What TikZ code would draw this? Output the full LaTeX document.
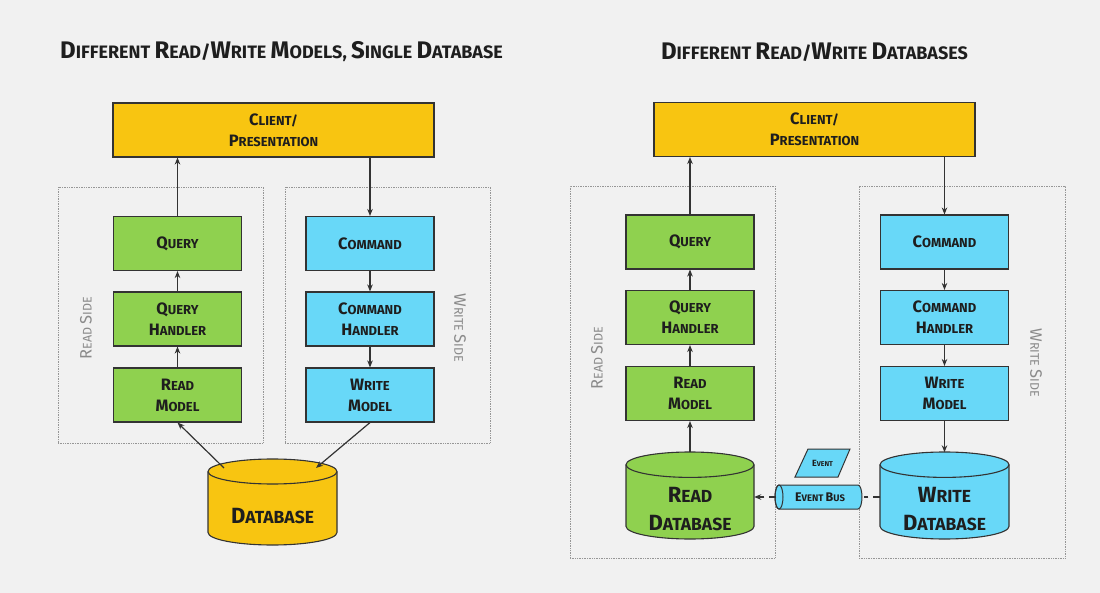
\documentclass[tikz,border=0pt]{standalone}
\usepackage{fontspec}
\setmainfont{Fira Sans}
\usetikzlibrary{arrows.meta,calc}
\definecolor{bg}{HTML}{F1F1F1}
\definecolor{yel}{HTML}{F8C511}
\definecolor{grn}{HTML}{8FD14F}
\definecolor{blu}{HTML}{68D8F8}
\definecolor{ink}{HTML}{1E1E1E}
\definecolor{edge}{HTML}{333333}
\definecolor{sidegray}{HTML}{8A8A8A}
\newcommand\TT[2]{{\fontsize{24}{26}\selectfont #1}{\fontsize{18}{26}\selectfont #2}}
\newcommand\BX[2]{{\fontsize{16.5}{21}\selectfont #1}{\fontsize{13}{21}\selectfont #2}}
\newcommand\DBT[2]{{\fontsize{22}{28}\selectfont #1}{\fontsize{17.5}{28}\selectfont #2}}
\newcommand\SD[2]{{\fontsize{16.5}{18}\selectfont #1}{\fontsize{12.5}{18}\selectfont #2}}
\newcommand\EVT[2]{{\fontsize{9}{10}\selectfont #1}{\fontsize{7}{10}\selectfont #2}}
\newcommand\EBT[2]{{\fontsize{12.5}{14}\selectfont #1}{\fontsize{9.5}{14}\selectfont #2}}
\newcommand\drawcyl[6]{%
  \pgfmathsetmacro\rx{(#2-#1)/2}%
  \filldraw[fill=#6,draw=edge,line width=1.1pt] (#1,#3+#5) -- (#1,#4-#5)
    arc[start angle=180,end angle=0,x radius=\rx,y radius=#5] -- (#2,#3+#5)
    arc[start angle=0,end angle=-180,x radius=\rx,y radius=#5] -- cycle;
  \draw[draw=edge,line width=1.1pt] (#1,#3+#5)
    arc[start angle=180,end angle=0,x radius=\rx,y radius=#5];}
\begin{document}
\begin{tikzpicture}[x=1pt,y=-1pt,
  box/.style={draw=edge,line width=1.1pt,minimum width=128pt,minimum height=54pt,
    inner sep=0pt,align=center,text=ink,font=\bfseries\fontsize{13}{21}\selectfont},
  qbox/.style={box,fill=grn},
  cbox/.style={box,fill=blu},
  client/.style={box,fill=yel,minimum width=321pt},
  sidebox/.style={draw=sidegray!90,densely dotted,line width=0.7pt,inner sep=0pt},
  sidelbl/.style={text=sidegray,inner sep=0pt,font=\fontsize{12.5}{18}\selectfont},
  title/.style={text=ink,inner sep=0pt,font=\bfseries\fontsize{18}{26}\selectfont},
  dbarea/.style={inner sep=0pt,minimum width=128pt,minimum height=86pt},
  dblbl/.style={text=ink,inner sep=0pt,align=center,font=\bfseries\fontsize{17.5}{28}\selectfont},
  arr/.style={draw=edge,line width=1.2pt,-{Stealth[length=7pt,width=5.5pt]}},
  busline/.style={draw=edge,line width=1.2pt,dash pattern=on 7pt off 5pt}
]
\fill[bg] (0,0) rectangle (1100,593);
\useasboundingbox (0,0) rectangle (1100,593);

% ---------------- left panel ----------------
\node[title] (tL) at (281.5,52) {\TT{D}{IFFERENT} \TT{R}{EAD}/\TT{W}{RITE} \TT{M}{ODELS}, \TT{S}{INGLE} \TT{D}{ATABASE}};
\node[client] (cL) at (273.5,130) {\BX{C}{LIENT/}\\\BX{P}{RESENTATION}};
\node[sidebox,minimum width=205pt,minimum height=256pt] (rsL) at (160.5,315) {};
\node[sidebox,minimum width=205pt,minimum height=256pt] (wsL) at (387.5,315) {};
\node[qbox] (qL) at (177.5,243.5) {\BX{Q}{UERY}};
\node[qbox] (qhL) at (177.5,319) {\BX{Q}{UERY}\\\BX{H}{ANDLER}};
\node[qbox] (rmL) at (177.5,395) {\BX{R}{EAD}\\\BX{M}{ODEL}};
\node[cbox] (cmL) at (370,243.5) {\BX{C}{OMMAND}};
\node[cbox] (chL) at (370,319) {\BX{C}{OMMAND}\\\BX{H}{ANDLER}};
\node[cbox] (wmL) at (370,395) {\BX{W}{RITE}\\\BX{M}{ODEL}};
\node[sidelbl,rotate=90] (rlL) at (86,328) {\SD{R}{EAD} \SD{S}{IDE}};
\node[sidelbl,rotate=-90] (wlL) at (460,328) {\SD{W}{RITE} \SD{S}{IDE}};
\drawcyl{208}{337}{459}{545}{12.5}{yel}
\node[dbarea] (dbL) at (272.5,502) {};
\node[dblbl] (dbLt) at (272.5,516) {\DBT{D}{ATABASE}};
\coordinate (dbLin) at (224,468);
\coordinate (dbLout) at (316,468);
\draw[arr] (qL.north) -- (qL.north |- cL.south);
\draw[arr] (cL.south -| cmL.north) -- (cmL.north);
\draw[arr] (qhL) -- (qL);
\draw[arr] (rmL) -- (qhL);
\draw[arr] (cmL) -- (chL);
\draw[arr] (chL) -- (wmL);
\draw[arr] (dbLin) -- (rmL.south);
\draw[arr] (wmL.south) -- (dbLout);

% ---------------- right panel ----------------
\node[title] (tR) at (814.5,52) {\TT{D}{IFFERENT} \TT{R}{EAD}/\TT{W}{RITE} \TT{D}{ATABASES}};
\node[client] (cR) at (814.5,129.5) {\BX{C}{LIENT/}\\\BX{P}{RESENTATION}};
\node[sidebox,minimum width=205pt,minimum height=372pt] (rsR) at (672.5,372) {};
\node[sidebox,minimum width=206pt,minimum height=372pt] (wsR) at (962,372) {};
\node[qbox] (qR) at (690,242) {\BX{Q}{UERY}};
\node[qbox] (qhR) at (690,317.5) {\BX{Q}{UERY}\\\BX{H}{ANDLER}};
\node[qbox] (rmR) at (690,393.5) {\BX{R}{EAD}\\\BX{M}{ODEL}};
\node[cbox] (cmR) at (944.5,242) {\BX{C}{OMMAND}};
\node[cbox] (chR) at (944.5,317.5) {\BX{C}{OMMAND}\\\BX{H}{ANDLER}};
\node[cbox] (wmR) at (944.5,393.5) {\BX{W}{RITE}\\\BX{M}{ODEL}};
\node[sidelbl,rotate=90] (rlR) at (597,358) {\SD{R}{EAD} \SD{S}{IDE}};
\node[sidelbl,rotate=-90] (wlR) at (1036,363) {\SD{W}{RITE} \SD{S}{IDE}};
\drawcyl{626}{754}{452}{539}{12.7}{grn}
\drawcyl{880}{1009}{452}{539}{12.7}{blu}
\node[dbarea] (rdb) at (690,495.5) {};
\node[dbarea] (wdb) at (944.5,495.5) {};
\node[dblbl] (rdbt) at (690,509) {\DBT{R}{EAD}\\\DBT{D}{ATABASE}};
\node[dblbl] (wdbt) at (944.5,509) {\DBT{W}{RITE}\\\DBT{D}{ATABASE}};
% event bus (horizontal cylinder)
\filldraw[fill=blu,draw=edge,line width=1pt] (779,485) -- (858,485)
  arc[start angle=-90,end angle=90,x radius=4,y radius=12] -- (779,509)
  arc[start angle=90,end angle=270,x radius=4,y radius=12] -- cycle;
\draw[draw=edge,line width=1pt] (779,497) ellipse[x radius=4,y radius=12];
\node[inner sep=0pt,minimum width=87pt,minimum height=24pt,text=ink,font=\bfseries\fontsize{9.5}{14}\selectfont] (eb) at (820,497) {\EBT{E}{VENT} \EBT{B}{US}};
% event parallelogram
\filldraw[fill=blu,draw=edge,line width=1pt] (808,449) -- (850,449) -- (838,477) -- (795,477) -- cycle;
\node[inner sep=0pt,text=ink,font=\bfseries\fontsize{7}{10}\selectfont] (ev) at (822.5,463) {\EVT{E}{VENT}};
\draw[arr] (qR.north) -- (qR.north |- cR.south);
\draw[arr] (cR.south -| cmR.north) -- (cmR.north);
\draw[arr] (qhR) -- (qR);
\draw[arr] (rmR) -- (qhR);
\draw[arr] (rdb.north) -- (rmR.south);
\draw[arr] (cmR) -- (chR);
\draw[arr] (chR) -- (wmR);
\draw[arr] (wmR.south) -- (wdb.north);
\draw[busline] (wdb.west |- eb.east) -- (eb.east);
\draw[busline,-{Stealth[length=7pt,width=5.5pt]}] (eb.west) -- (eb.west -| rdb.east);
\end{tikzpicture}
\end{document}
